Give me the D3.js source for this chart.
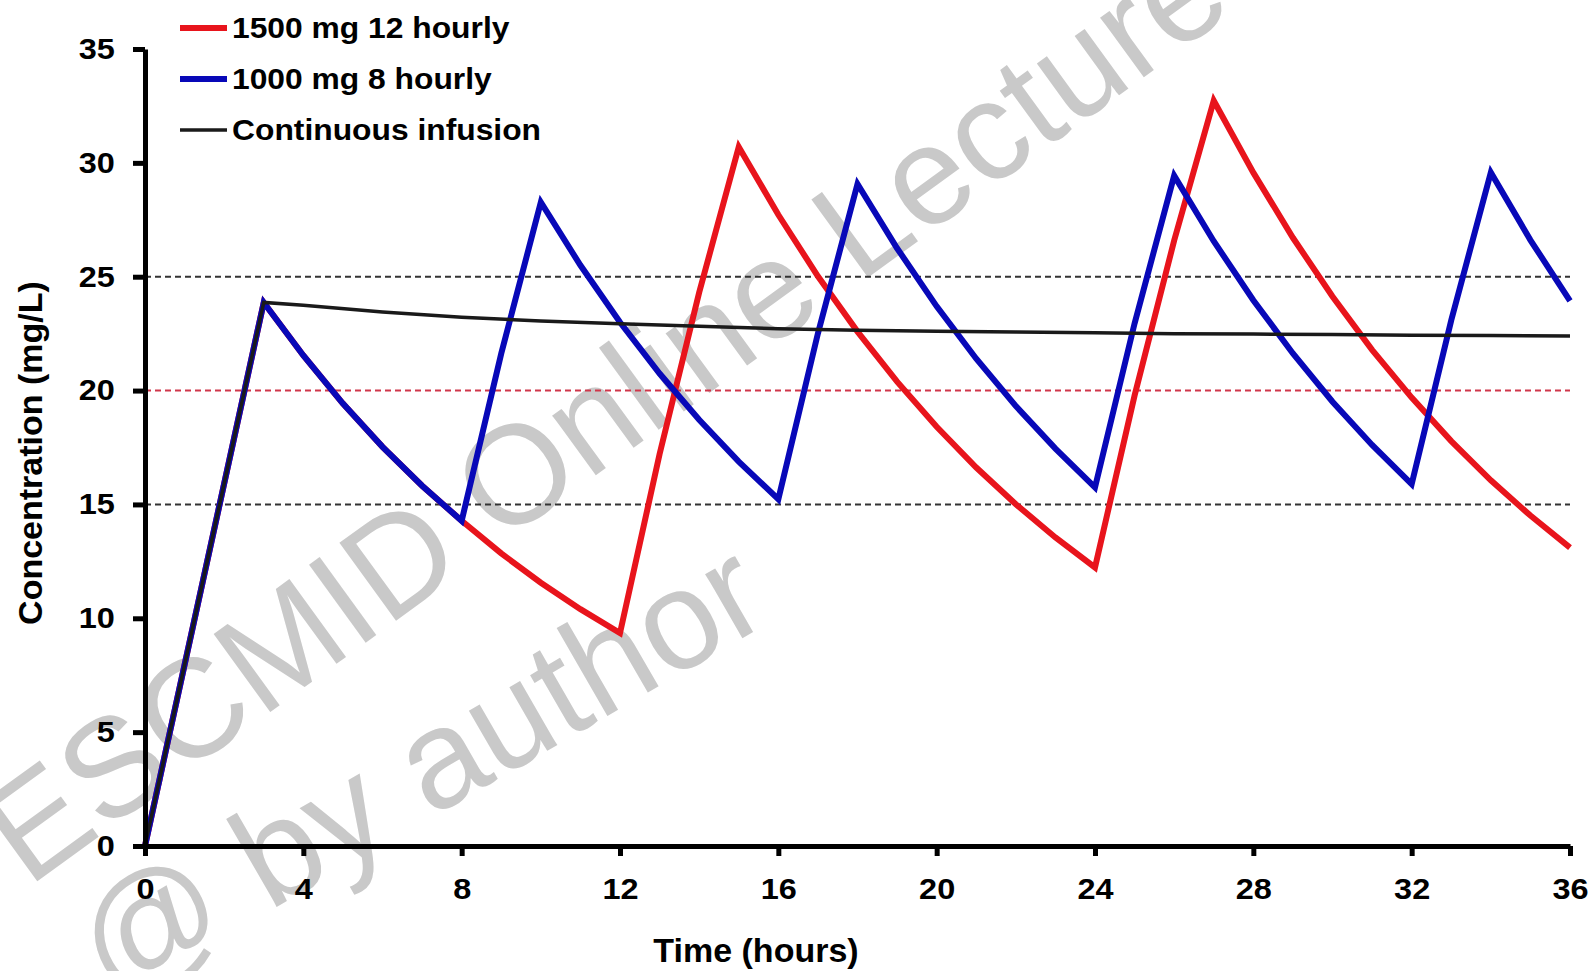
<!DOCTYPE html>
<html>
<head>
<meta charset="utf-8">
<script src="https://cdn.jsdelivr.net/npm/d3@7"></script>
<style>
  body { margin: 0; background: #fff; }
  svg { display: block; font-family: "Liberation Sans", Arial, sans-serif; }
</style>
</head>
<body>
<div id="chart"></div>
<script>
// Time points (hours) shared by the two intermittent regimens
const hours = [0, 3, 4, 5, 6, 7, 8, 9, 10, 11, 12, 13, 14, 15, 16, 17, 18, 19, 20,
               21, 22, 23, 24, 25, 26, 27, 28, 29, 30, 31, 32, 33, 34, 35, 36];

// 1500 mg 12 hourly (mg/L)
const red12h = [0, 23.87, 21.54, 19.43, 17.53, 15.82, 14.28, 12.85, 11.56, 10.40, 9.35,
                17.21, 24.31, 30.70, 27.72, 25.02, 22.59, 20.39, 18.41, 16.62, 15.01,
                13.55, 12.23, 19.78, 26.59, 32.73, 29.57, 26.71, 24.13, 21.79, 19.69,
                17.78, 16.06, 14.51, 13.10];

// 1000 mg 8 hourly (mg/L)
const blue8h = [0, 23.87, 21.54, 19.43, 17.53, 15.82, 14.28, 21.63, 28.27, 25.50, 23.00,
                20.75, 18.72, 16.88, 15.23, 22.51, 29.07, 26.25, 23.70, 21.40, 19.32,
                17.45, 15.75, 22.95, 29.44, 26.56, 23.97, 21.63, 19.51, 17.61, 15.89,
                23.09, 29.58, 26.61, 23.94];

// Continuous infusion
const contHours = [0, 3, 4, 6, 8, 10, 12, 14, 16, 18, 20, 22, 24, 26, 28, 30, 32, 34, 36];
const contConc = [0, 23.87, 23.75, 23.45, 23.22, 23.05, 22.93, 22.82, 22.72, 22.65, 22.60,
                  22.57, 22.54, 22.50, 22.48, 22.46, 22.43, 22.42, 22.40];

// Target lines
const refLevels = [25, 20, 15];
const refColors = ["#333333", "#d0364a", "#333333"];

const xTicks = [0, 4, 8, 12, 16, 20, 24, 28, 32, 36];
const yTicks = [0, 5, 10, 15, 20, 25, 30, 35];

const seriesNames = ["1500 mg 12 hourly", "1000 mg 8 hourly", "Continuous infusion"];
const seriesColors = ["#e8141c", "#0808b8", "#1a1a1a"];
const seriesWidths = [6, 6, 3.5];

const width = 1593, height = 971;

const svg = d3.select("#chart")
    .append("svg")
    .attr("width", width)
    .attr("height", height);

const x = d3.scaleLinear().domain([0, 36]).range([145, 1570]);
const y = d3.scaleLinear().domain([0, 35]).range([846, 49]);

// Watermark behind the plot
const wm = svg.append("g")
    .attr("fill", "#c9c9c9");
wm.append("text")
    .attr("transform", "translate(28,888) rotate(-36)")
    .style("font-size", "140px")
    .text("ESCMID Online Lecture Library");
wm.append("text")
    .attr("transform", "translate(112,1002) rotate(-30)")
    .style("font-size", "140px")
    .text("@ by author");

// Dashed target lines
svg.append("g")
    .selectAll("line")
    .data(refLevels)
    .join("line")
    .attr("x1", x(0))
    .attr("x2", x(36))
    .attr("y1", d => y(d))
    .attr("y2", d => y(d))
    .attr("stroke", (d, i) => refColors[i])
    .attr("stroke-width", 2)
    .attr("stroke-dasharray", "6,4");

// Concentration curves
const line = d3.line()
    .x(d => x(d[0]))
    .y(d => y(d[1]));

const curves = [
    d3.zip(hours, red12h),
    d3.zip(hours, blue8h),
    d3.zip(contHours, contConc)
];

curves.forEach((pts, i) => {
    svg.append("path")
        .datum(pts)
        .attr("d", line)
        .attr("fill", "none")
        .attr("stroke", seriesColors[i])
        .attr("stroke-width", seriesWidths[i])
        .attr("stroke-linejoin", "miter");
});

// Axes
const xAxis = svg.append("g")
    .attr("transform", `translate(0,${y(0)})`)
    .call(d3.axisBottom(x).tickValues(xTicks).tickSize(10).tickSizeOuter(0));

const yAxis = svg.append("g")
    .attr("transform", `translate(${x(0)},0)`)
    .call(d3.axisLeft(y).tickValues(yTicks).tickSize(12).tickSizeOuter(0).tickPadding(15));

[xAxis, yAxis].forEach(ax => {
    ax.select(".domain").attr("stroke", "#000").attr("stroke-width", 5);
    ax.selectAll(".tick line").attr("stroke", "#000").attr("stroke-width", 5);
    ax.selectAll(".tick text")
        .attr("fill", "#000")
        .style("font-size", "29px")
        .style("font-weight", "bold")
        .attr("transform", "scale(1.12,1)");
});

xAxis.selectAll(".tick text").attr("y", 53).attr("dy", null);

// Axis titles
svg.append("text")
    .attr("x", 756)
    .attr("y", 962)
    .attr("text-anchor", "middle")
    .style("font-size", "34px")
    .style("font-weight", "bold")
    .text("Time (hours)");

svg.append("text")
    .attr("transform", "translate(42,453) rotate(-90)")
    .attr("text-anchor", "middle")
    .style("font-size", "34px")
    .style("font-weight", "bold")
    .text("Concentration (mg/L)");

// Legend
const legend = svg.append("g");
seriesNames.forEach((name, i) => {
    const ly = 28 + i * 51;
    legend.append("line")
        .attr("x1", 180)
        .attr("x2", 227)
        .attr("y1", ly)
        .attr("y2", ly)
        .attr("stroke", seriesColors[i])
        .attr("stroke-width", seriesWidths[i]);
    legend.append("text")
        .attr("transform", `translate(232,${ly + 10}) scale(1.06,1)`)
        .style("font-size", "30px")
        .style("font-weight", "bold")
        .text(name);
});
</script>
</body>
</html>
